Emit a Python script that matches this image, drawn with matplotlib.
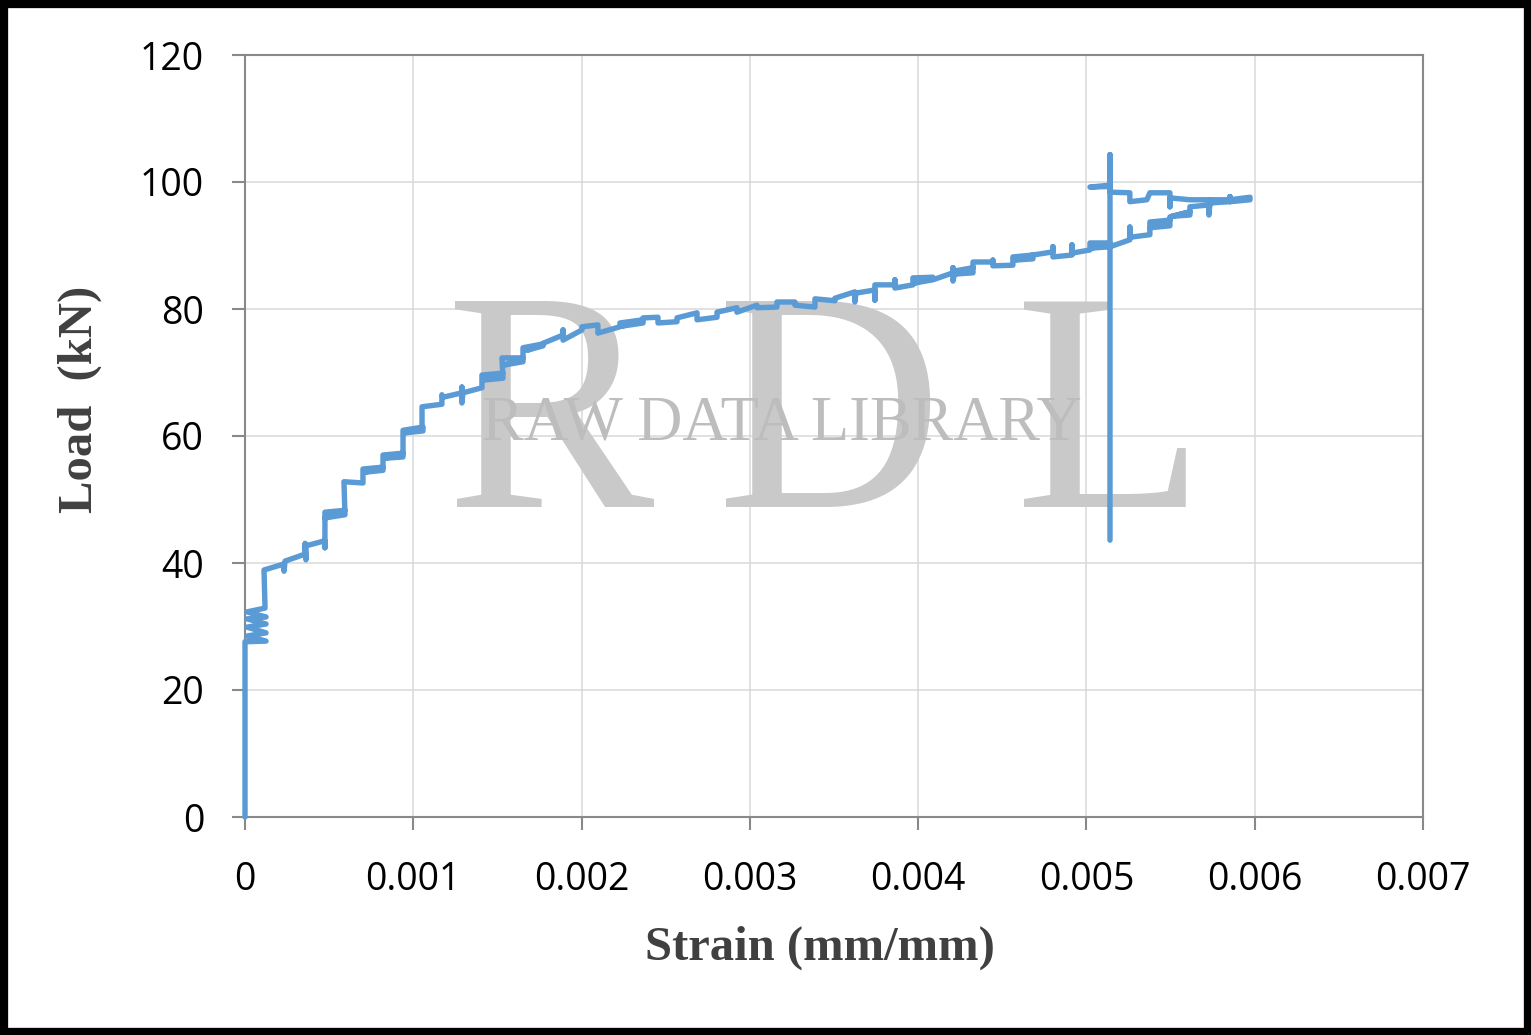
import matplotlib
matplotlib.use("Agg")
import matplotlib.pyplot as plt
from matplotlib.patches import Rectangle

# strain (mm/mm) and load (kN)
strain = [
    0.0, 0.0, 0.000125, 0.000012, 0.000125, 0.000012, 0.000125, 0.000012, 0.000125, 0.000012,
    0.000119, 0.000113, 0.000226, 0.000232, 0.000238, 0.000357, 0.000357, 0.000362, 0.000362, 0.000475,
    0.000475, 0.000475, 0.000594, 0.000475, 0.000594, 0.000588, 0.000701, 0.000701, 0.00082, 0.000713,
    0.00082, 0.00082, 0.000939, 0.000832, 0.000939, 0.000939, 0.001058, 0.000951, 0.001058, 0.001052,
    0.001052, 0.00117, 0.00117, 0.001176, 0.001289, 0.001289, 0.001289, 0.001295, 0.001408, 0.001408,
    0.001533, 0.001414, 0.001533, 0.001527, 0.001652, 0.001545, 0.001652, 0.001652, 0.001771, 0.001676,
    0.001771, 0.001771, 0.00189, 0.00189, 0.00189, 0.002002, 0.002002, 0.002097, 0.002097, 0.002228,
    0.002228, 0.002365, 0.002240, 0.002365, 0.002365, 0.002454, 0.002454, 0.002567, 0.002567, 0.002686,
    0.002686, 0.002805, 0.002805, 0.002923, 0.002923, 0.003042, 0.003042, 0.003161, 0.003161, 0.003268,
    0.003268, 0.003387, 0.003387, 0.003506, 0.003506, 0.003624, 0.003624, 0.00363, 0.003743, 0.003743,
    0.003743, 0.003862, 0.003862, 0.003862, 0.003969, 0.003969, 0.004088, 0.003981, 0.004088, 0.004207,
    0.004207, 0.004207, 0.004219, 0.004326, 0.004219, 0.004326, 0.004326, 0.004444, 0.004444, 0.004444,
    0.004563, 0.004563, 0.004682, 0.004575, 0.004682, 0.004682, 0.004801, 0.004801, 0.004801, 0.004914,
    0.004914, 0.004914, 0.005021, 0.005021, 0.00514, 0.005033, 0.00514, 0.005258, 0.005258, 0.005258,
    0.005377, 0.005377, 0.005496, 0.005377, 0.005496, 0.005496, 0.005615, 0.005508, 0.005615, 0.005615,
    0.005734, 0.005728, 0.005728, 0.005734, 0.005853, 0.005853, 0.005853, 0.005972, 0.005972,
    0.005853, 0.005615, 0.005496, 0.005496, 0.005496, 0.005377, 0.005359, 0.005258, 0.005258, 0.00514,
    0.00514, 0.005021, 0.00514, 0.00514, 0.00514,
]
load = [
    0.0, 27.6, 27.7, 28.5, 29.0, 29.9, 30.4, 31.2, 31.5, 32.3,
    32.9, 38.9, 39.8, 38.7, 40.3, 41.4, 43.1, 40.5, 42.7, 43.5,
    42.4, 48.0, 48.3, 47.1, 47.6, 52.8, 52.6, 54.8, 55.1, 54.3,
    54.6, 57.0, 57.3, 56.5, 56.7, 60.9, 61.4, 60.5, 60.8, 61.7,
    64.6, 65.0, 66.5, 66.1, 66.8, 67.7, 65.2, 66.8, 67.6, 69.6,
    69.9, 68.8, 69.1, 72.3, 72.3, 71.2, 71.7, 73.9, 74.5, 73.5,
    74.2, 74.6, 75.9, 76.7, 75.1, 76.7, 77.2, 77.5, 76.2, 77.2,
    77.8, 78.3, 77.3, 77.8, 78.6, 78.7, 77.8, 78.0, 78.6, 79.4,
    78.3, 78.7, 79.5, 80.2, 79.5, 80.6, 80.2, 80.3, 81.1, 81.1,
    80.6, 80.3, 81.6, 81.3, 81.7, 82.7, 81.1, 82.5, 83.0, 81.4,
    83.8, 83.8, 84.6, 83.3, 83.8, 84.9, 85.0, 84.1, 84.6, 85.7,
    86.5, 84.4, 86.0, 86.5, 85.5, 85.7, 87.4, 87.4, 87.7, 86.8,
    86.9, 88.2, 88.5, 87.7, 87.9, 88.5, 89.0, 89.8, 88.2, 88.5,
    90.1, 88.8, 89.3, 90.4, 90.4, 89.6, 89.8, 90.9, 92.9, 91.3,
    91.7, 93.7, 94.0, 92.8, 93.1, 94.5, 95.3, 94.6, 94.8, 96.1,
    96.4, 97.2, 94.8, 96.7, 96.9, 97.7, 96.9, 97.2, 97.6,
    97.2, 97.2, 97.5, 96.1, 98.3, 98.3, 97.2, 96.9, 98.3, 98.4,
    99.5, 99.2, 99.3, 104.3, 43.6,
]

x_ticks = [0, 0.001, 0.002, 0.003, 0.004, 0.005, 0.006, 0.007]
x_tick_labels = ["0", "0.001", "0.002", "0.003", "0.004", "0.005", "0.006", "0.007"]
y_ticks = [0, 20, 40, 60, 80, 100, 120]

W, H = 1531, 1035
fig = plt.figure(figsize=(W / 100, H / 100), dpi=100)
ax = fig.add_axes([245 / W, 1 - 817 / H, (1423 - 245) / W, (817 - 55) / H])

spine_col = "#898989"
ax.plot(strain, load, color="#5B9BD5", lw=3.9, solid_joinstyle="round",
        solid_capstyle="round", zorder=3, clip_on=False)

ax.set_xlim(0, 0.007)
ax.set_ylim(0, 120)
ax.set_xticks(x_ticks)
ax.set_xticklabels(x_tick_labels)
ax.set_yticks(y_ticks)
ax.set_axisbelow(True)
ax.grid(True, color="#d9d9d9", lw=1.1)
for s in ax.spines.values():
    s.set_color(spine_col)
    s.set_linewidth(1.5)
ax.tick_params(direction="out", length=9.5, width=1.5, color=spine_col,
               labelsize=27, labelcolor="black")
ax.tick_params(axis="y", pad=20)
ax.tick_params(axis="x", pad=22)
for lab in ax.get_xticklabels() + ax.get_yticklabels():
    lab.set_fontfamily("Open Sans")

# watermark
wm = "#c9c9c9"
for letter, cx in [("R", 550), ("D", 830), ("L", 1110)]:
    ax.text(cx / W, 1 - 507 / H, letter, transform=fig.transFigure, ha="center",
            va="baseline", fontsize=225, family="Liberation Serif", color=wm, zorder=1)
ax.text(782 / W, 1 - 440 / H, "RAW DATA LIBRARY", transform=fig.transFigure,
        ha="center", va="baseline", fontsize=45, family="Liberation Serif",
        color="#bdbdbd", zorder=1.5)

fig.text(820 / W, 1 - 948 / H, "Strain (mm/mm)", ha="center", va="center",
         fontsize=35, fontweight="bold", family="Liberation Serif", color="#404040")
fig.text(80 / W, 1 - 399 / H, "Load  (kN)", ha="center", va="center", rotation=90,
         fontsize=35, fontweight="bold", family="Liberation Serif", color="#404040")

fig.patches.append(Rectangle((0, 0), 1, 1, transform=fig.transFigure, fill=False,
                             edgecolor="black", lw=11, zorder=10))

fig.savefig("out.png", dpi=100)
